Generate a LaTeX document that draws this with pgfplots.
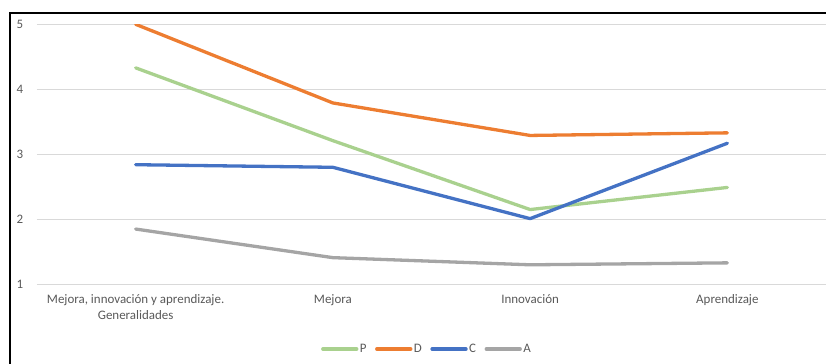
\documentclass[border=0pt]{standalone}
\usepackage{fontspec}
\setmainfont{Carlito}
\usepackage{pgfplots}
\pgfplotsset{compat=1.18}

\definecolor{serP}{HTML}{A9D18E}
\definecolor{serD}{HTML}{ED7D31}
\definecolor{serC}{HTML}{4472C4}
\definecolor{serA}{HTML}{A5A5A5}
\definecolor{labgray}{HTML}{595959}
\definecolor{gridgray}{HTML}{D9D9D9}

\newcommand{\chartfont}{\fontsize{13}{15.3}\selectfont}

\begin{document}
\begin{tikzpicture}
\useasboundingbox (0,0) rectangle (826bp,364bp);
% outer frame (top and left edges)
\draw[black, line width=2bp] (9.8bp,-5bp) -- (9.8bp,350.6bp) -- (840bp,350.6bp);
\begin{axis}[
  at={(37bp,79.7bp)}, anchor=south west,
  scale only axis, width=789bp, height=260bp,
  xmin=-0.5, xmax=3.5, ymin=1, ymax=5,
  xtick={0,1,2,3},
  xticklabels={{Mejora, innovación y aprendizaje.\\Generalidades}, Mejora, Innovación, Aprendizaje},
  ytick={1,2,3,4,5},
  axis line style={draw=none},
  major tick length=0pt,
  ymajorgrids, grid style={gridgray, line width=1bp},
  tick label style={font=\chartfont, text=labgray},
  /pgf/number format/assume math mode=true,
  xticklabel style={anchor=north, align=center, inner sep=0pt, yshift=-10.5bp},
  yticklabel style={anchor=east, inner sep=0pt, xshift=-13.5bp},
  every axis plot/.append style={line width=3.3bp, line cap=round, line join=round},
  legend columns=4,
  legend style={draw=none, fill=none, at={(0.494,-0.249)}, anchor=center,
    font=\chartfont, text=labgray,
    nodes={inner sep=1.5bp},
    /tikz/every even column/.append style={column sep=7bp}},
  legend image code/.code={\draw[#1, line width=3.3bp] (0bp,0bp) -- (34bp,0bp);},
]
\addplot[serP] coordinates {(0,4.33) (1,3.21) (2,2.15) (3,2.49)};
\addlegendentry{P}
\addplot[serD] coordinates {(0,5.00) (1,3.79) (2,3.29) (3,3.33)};
\addlegendentry{D}
\addplot[serC] coordinates {(0,2.84) (1,2.80) (2,2.01) (3,3.17)};
\addlegendentry{C}
\addplot[serA] coordinates {(0,1.85) (1,1.41) (2,1.30) (3,1.33)};
\addlegendentry{A}
\end{axis}
\end{tikzpicture}
\end{document}
